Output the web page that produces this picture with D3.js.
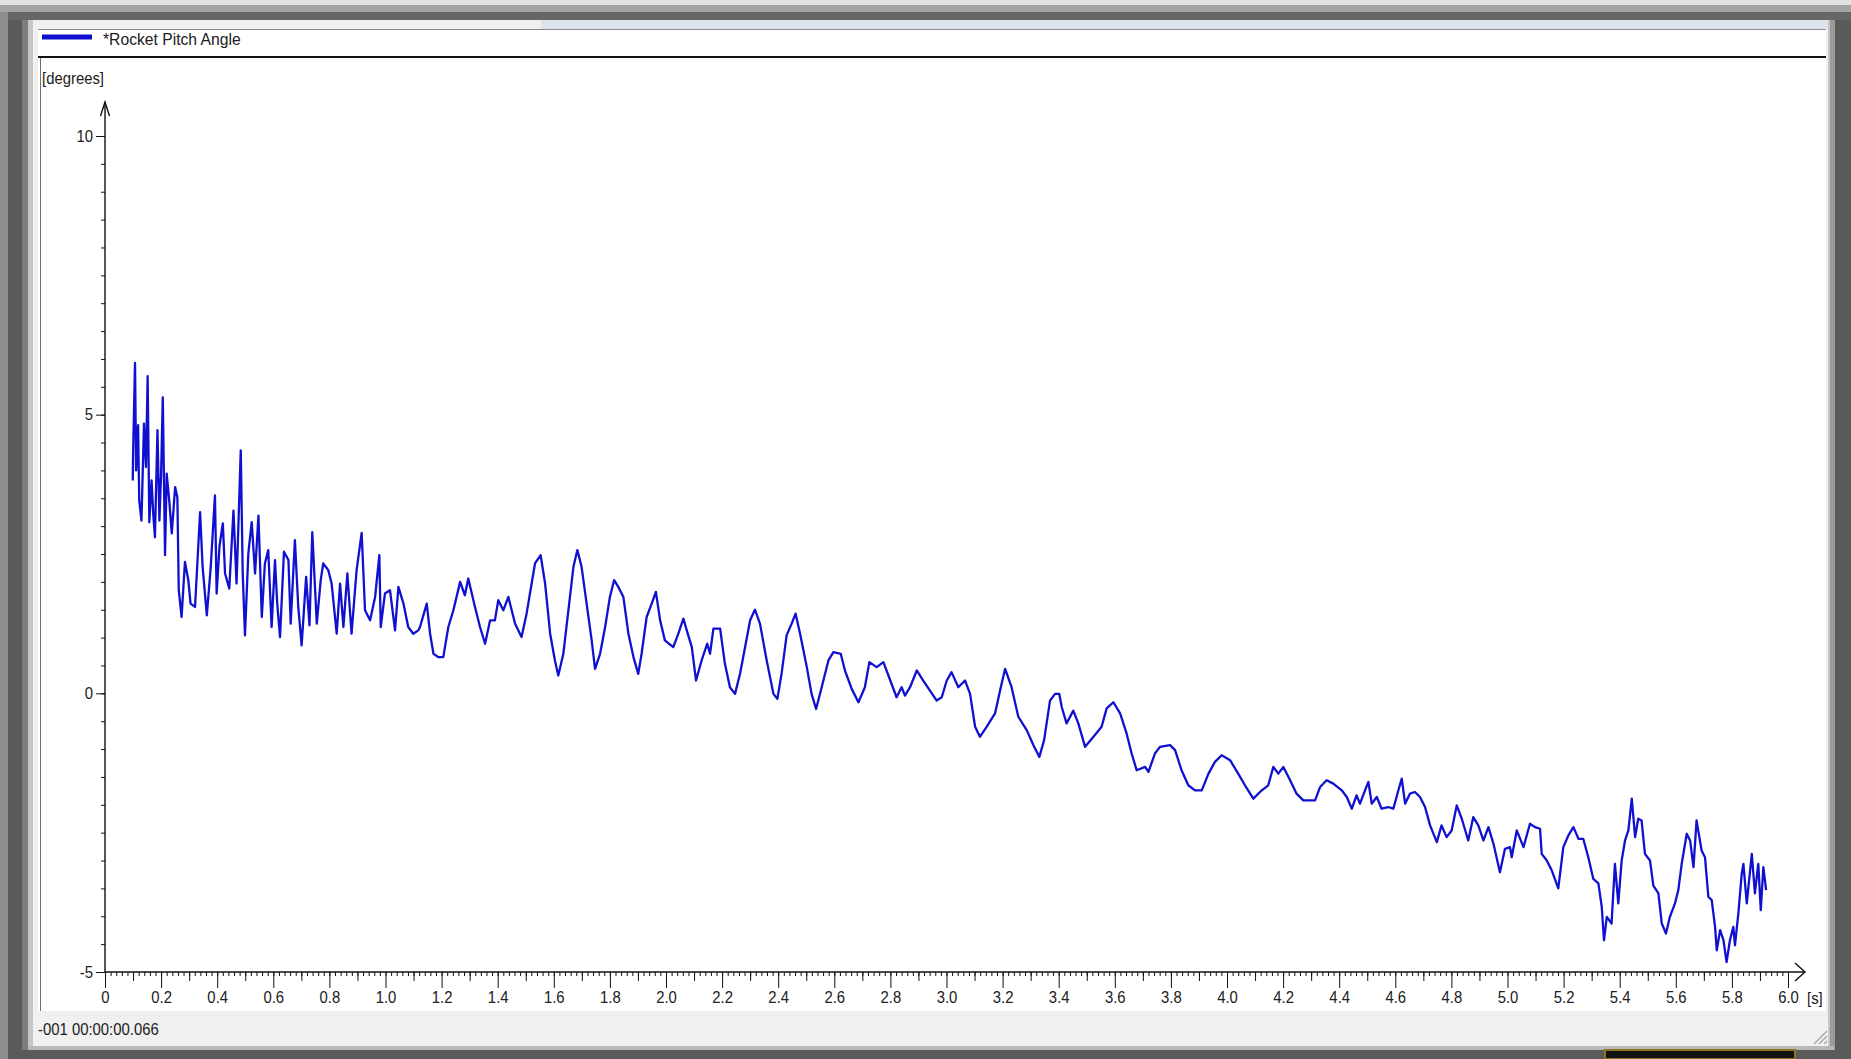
<!DOCTYPE html>
<html>
<head>
<meta charset="utf-8">
<script src="https://cdn.jsdelivr.net/npm/d3@7"></script>
<style>
  body { margin: 0; background: #5c5c5c; }
  svg { display: block; }
  text { font-family: "Liberation Sans", Arial, sans-serif; fill: #202020; }
</style>
</head>
<body>
<svg width="1851" height="1059"></svg>
<script>
// values: time [s] and pitch angle [degrees]
var time = [
  0.099,0.100,0.107,0.111,0.118,0.122,0.130,0.139,0.146,0.152,0.158,0.166,0.172,0.178,0.187,0.194,0.200,0.206,0.214,0.220,
  0.229,0.238,0.250,0.258,0.263,0.273,0.285,0.297,0.305,0.321,0.339,0.348,0.363,0.377,0.392,0.398,0.408,0.420,0.428,0.443,
  0.458,0.469,0.484,0.491,0.499,0.511,0.523,0.535,0.547,0.559,0.570,0.582,0.594,0.606,0.614,0.624,0.638,0.654,0.662,0.677,
  0.689,0.701,0.717,0.729,0.739,0.755,0.769,0.778,0.796,0.808,0.826,0.838,0.850,0.864,0.879,0.897,0.915,0.927,0.945,0.963,
  0.978,0.983,0.998,1.016,1.034,1.046,1.064,1.081,1.099,1.117,
  1.123,1.147,1.159,1.171,1.188,1.206,1.224,1.242,1.266,1.283,1.295,1.319,1.337,1.355,1.373,1.390,1.402,1.420,1.438,1.462,
  1.485,1.503,1.521,1.533,1.553,1.569,1.587,1.604,1.616,1.634,1.652,1.670,1.684,1.699,1.717,1.735,1.747,1.765,1.783,1.800,
  1.815,1.830,1.848,1.866,1.884,1.901,1.913,1.931,1.949,1.964,1.979,1.996,2.026,2.044,2.062,2.074,2.092,2.107,2.127,2.147,
  2.157,2.169,2.193,2.210,2.228,2.246,2.264,2.282,2.300,2.317,2.335,2.359,2.383,2.397,2.412,2.430,2.448,2.462,2.478,2.502,
  2.519,2.535,2.555,2.579,2.597,2.623,2.638,
  2.662,2.686,2.709,2.725,2.751,2.775,2.793,2.822,2.840,2.852,2.870,2.894,2.917,2.941,2.965,2.983,3.001,3.018,3.042,3.066,
  3.084,3.102,3.119,3.143,3.173,3.191,3.209,3.232,3.256,3.286,3.310,3.331,3.348,3.369,3.387,3.402,3.411,3.428,3.452,3.470,
  3.494,3.524,3.553,3.571,3.595,3.619,3.642,3.660,3.678,3.708,3.720,3.743,3.761,3.797,3.815,3.838,3.862,3.886,3.910,3.934,
  3.957,3.981,4.011,4.040,4.064,4.094,4.124,4.147,4.165,4.183,4.201,4.225,4.248,4.272,4.314,4.332,4.355,4.379,4.409,4.427,
  4.445,
  4.462,4.474,4.492,4.504,4.516,4.534,4.551,4.575,4.593,4.611,4.623,4.635,4.652,4.670,4.688,4.706,4.724,4.748,4.765,4.783,
  4.801,4.819,4.837,4.860,4.878,4.896,4.914,4.932,4.950,4.973,4.991,5.009,5.015,5.033,5.057,5.080,5.098,5.116,5.122,5.140,
  5.158,5.181,5.199,5.217,5.235,5.253,5.270,5.288,5.306,5.324,5.336,5.344,5.354,5.371,5.383,5.395,5.407,5.419,5.431,5.443,
  5.455,5.466,5.478,5.490,5.508,5.520,5.538,5.550,5.565,5.579,5.597,5.609,5.621,5.639,5.651,5.663,5.674,5.692,5.704,5.716,
  5.728,5.740,5.746,5.758,5.770,5.781,5.793,5.805,5.811,5.823,5.835,5.841,5.853,5.871,5.882,5.894,5.903,5.912,5.922
];
var pitch = [
  3.82,4.27,5.93,4.00,4.81,3.46,3.10,4.84,4.06,5.69,3.07,3.82,3.22,2.80,4.72,3.10,3.94,5.31,2.48,3.94,
  3.46,2.87,3.70,3.52,1.85,1.37,2.36,2.03,1.61,1.55,3.25,2.27,1.40,2.27,3.55,1.79,2.63,3.05,2.15,1.88,
  3.28,1.97,4.36,2.15,1.04,2.51,3.07,2.15,3.19,1.37,2.33,2.57,1.19,2.39,1.61,1.01,2.54,2.39,1.25,2.75,
  1.55,0.86,2.09,1.22,2.89,1.25,2.03,2.33,2.21,1.97,1.07,1.97,1.19,2.15,1.07,2.21,2.88,1.49,1.31,1.73,
  2.48,1.19,1.79,1.85,1.13,1.91,1.61,1.19,1.07,1.13,
  1.19,1.61,1.07,0.71,0.65,0.65,1.19,1.49,2.00,1.76,2.06,1.55,1.19,0.89,1.31,1.31,1.67,1.49,1.73,1.25,
  1.01,1.43,1.97,2.33,2.48,1.97,1.07,0.59,0.32,0.71,1.49,2.27,2.57,2.27,1.61,0.95,0.44,0.71,1.19,1.73,
  2.03,1.91,1.73,1.07,0.65,0.35,0.71,1.37,1.61,1.82,1.31,0.95,0.83,1.07,1.34,1.13,0.83,0.23,0.59,0.89,
  0.71,1.16,1.16,0.53,0.11,-0.01,0.35,0.83,1.31,1.50,1.25,0.59,-0.01,-0.10,0.35,1.04,1.25,1.43,1.07,0.47,
  -0.01,-0.28,0.11,0.59,0.74,0.71,0.41,
  0.08,-0.16,0.11,0.56,0.47,0.56,0.32,-0.07,0.11,-0.04,0.11,0.41,0.23,0.05,-0.13,-0.07,0.23,0.38,0.11,0.23,
  -0.01,-0.60,-0.78,-0.60,-0.36,0.05,0.44,0.11,-0.42,-0.66,-0.93,-1.14,-0.84,-0.13,-0.01,-0.01,-0.25,-0.54,-0.31,-0.54,
  -0.96,-0.78,-0.60,-0.27,-0.16,-0.36,-0.72,-1.08,-1.38,-1.32,-1.41,-1.08,-0.96,-0.93,-1.02,-1.38,-1.65,-1.74,-1.74,-1.44,
  -1.23,-1.11,-1.20,-1.44,-1.65,-1.89,-1.74,-1.65,-1.32,-1.44,-1.32,-1.56,-1.80,-1.92,-1.92,-1.68,-1.56,-1.62,-1.74,-1.86,
  -2.07,
  -1.83,-1.98,-1.74,-1.59,-1.98,-1.86,-2.07,-2.04,-2.07,-1.74,-1.53,-1.98,-1.80,-1.77,-1.86,-2.04,-2.37,-2.67,-2.37,-2.58,
  -2.46,-2.01,-2.25,-2.64,-2.22,-2.37,-2.64,-2.40,-2.70,-3.21,-2.79,-2.76,-2.94,-2.46,-2.76,-2.34,-2.40,-2.43,-2.88,-3.00,
  -3.18,-3.50,-2.76,-2.55,-2.40,-2.61,-2.61,-2.94,-3.33,-3.41,-3.83,-4.43,-4.01,-4.13,-3.06,-3.77,-3.00,-2.64,-2.46,-1.89,
  -2.58,-2.25,-2.28,-2.88,-3.00,-3.45,-3.59,-4.13,-4.31,-4.01,-3.77,-3.53,-3.06,-2.52,-2.64,-3.12,-2.28,-2.82,-2.94,-3.65,
  -3.71,-4.19,-4.61,-4.25,-4.43,-4.82,-4.43,-4.19,-4.52,-3.95,-3.24,-3.06,-3.77,-2.88,-3.59,-3.06,-3.89,-3.12,-3.53
];
var xMajor = d3.range(0, 31).map(function(i) { return i / 5; });
var xTickLabels = ["0","0.2","0.4","0.6","0.8","1.0","1.2","1.4","1.6","1.8","2.0","2.2","2.4","2.6","2.8","3.0",
                   "3.2","3.4","3.6","3.8","4.0","4.2","4.4","4.6","4.8","5.0","5.2","5.4","5.6","5.8","6.0"];
var yMajor = [-5, 0, 5, 10];
var yTickLabels = ["-5", "0", "5", "10"];
var seriesName = "*Rocket Pitch Angle";
var unitY = "[degrees]", unitX = "[s]";
var statusText = "-001 00:00:00.066";

var svg = d3.select("svg");
var lineColor = "#1010d0";

// label helper: the screen font is a bit narrower than Liberation Sans
function label(g, x, y, s, sx) {
  return g.append("text")
    .attr("transform", "translate(" + x + "," + y + ") scale(" + (sx || 0.93) + ",1)")
    .style("font-size", "16px")
    .text(s);
}

// window chrome
var chrome = svg.append("g");
chrome.append("rect").attr("width", 1851).attr("height", 1059).attr("fill", "#5a5a5a");
chrome.append("rect").attr("width", 1851).attr("height", 5).attr("fill", "#e2e2e2");
chrome.append("rect").attr("y", 5).attr("width", 1851).attr("height", 7).attr("fill", "#a4a4a4");
chrome.append("rect").attr("y", 12).attr("width", 1851).attr("height", 8).attr("fill", "#676767");
chrome.append("rect").attr("x", 0).attr("y", 12).attr("width", 8).attr("height", 1047).attr("fill", "#8e8e8e");
chrome.append("rect").attr("x", 22).attr("y", 20).attr("width", 6).attr("height", 1030).attr("fill", "#7c7c7c");
chrome.append("rect").attr("x", 28).attr("y", 20).attr("width", 1806).attr("height", 1030).attr("fill", "#c6c6c6");
chrome.append("rect").attr("x", 33).attr("y", 20).attr("width", 1795).attr("height", 1026).attr("fill", "#f0f0f0");
chrome.append("rect").attr("x", 541).attr("y", 20).attr("width", 1287).attr("height", 9).attr("fill", "#dde2ee");
chrome.append("rect").attr("x", 38).attr("y", 29).attr("width", 1788).attr("height", 982).attr("fill", "#ffffff");
chrome.append("line").attr("x1", 38).attr("x2", 1826).attr("y1", 29.5).attr("y2", 29.5).attr("stroke", "#8a8a8a");
chrome.append("line").attr("x1", 38).attr("x2", 1826).attr("y1", 57).attr("y2", 57).attr("stroke", "#111").attr("stroke-width", 2);
chrome.append("line").attr("x1", 40.5).attr("x2", 40.5).attr("y1", 58).attr("y2", 1011).attr("stroke", "#6e6e6e");
chrome.append("rect").attr("x", 1830).attr("y", 20).attr("width", 5).attr("height", 1030).attr("fill", "#9a9a9a");
chrome.append("rect").attr("x", 28).attr("y", 1046).attr("width", 1806).attr("height", 4).attr("fill", "#b8b8b8");
chrome.append("rect").attr("x", 1605).attr("y", 1050).attr("width", 190).attr("height", 9).attr("fill", "#111")
  .attr("stroke", "#8a7420").attr("stroke-width", 2);
[0, 5, 10].forEach(function(o) {
  chrome.append("line").attr("x1", 1814 + o).attr("y1", 1044).attr("x2", 1827).attr("y2", 1031 + o)
    .attr("stroke", "#a8a8a8").attr("stroke-width", 1.5);
});

// legend and units
svg.append("line").attr("x1", 42).attr("x2", 92).attr("y1", 37).attr("y2", 37)
  .attr("stroke", lineColor).attr("stroke-width", 5);
label(svg, 103, 45, seriesName, 0.98);
label(svg, 42, 84, unitY);
label(svg, 1807, 1004, unitX);
label(svg, 38, 1035, statusText);

// scales
var x = d3.scaleLinear().domain([0, 6]).range([105, 1788]);
var y = d3.scaleLinear().domain([-5, 10]).range([972, 136]);

// x axis: minor every 0.02, mid every 0.1, major every 0.2
var gx = svg.append("g").attr("transform", "translate(0," + y(-5) + ")");
gx.append("g").call(d3.axisBottom(x).tickValues(d3.range(0, 301).map(function(i) { return i / 50; }))
  .tickSize(4).tickSizeOuter(0).tickFormat(""));
gx.append("g").call(d3.axisBottom(x).tickValues(d3.range(0, 30).map(function(i) { return i / 5 + 0.1; }))
  .tickSize(9).tickSizeOuter(0).tickFormat(""));
gx.append("g").call(d3.axisBottom(x).tickValues(xMajor).tickSize(16).tickSizeOuter(0).tickPadding(4)
  .tickFormat(function(d, i) { return xTickLabels[i]; }));
gx.selectAll(".domain").remove();

// y axis: minor every 0.5, labels every 5
var gy = svg.append("g").attr("transform", "translate(" + x(0) + ",0)");
gy.append("g").call(d3.axisLeft(y).tickValues(d3.range(-10, 21).map(function(i) { return i / 2; }))
  .tickSize(4).tickSizeOuter(0).tickFormat(""));
gy.append("g").call(d3.axisLeft(y).tickValues(yMajor).tickSize(9).tickSizeOuter(0).tickPadding(4)
  .tickFormat(function(d, i) { return yTickLabels[i]; }));
gy.selectAll(".domain").remove();

svg.selectAll(".tick line").attr("stroke", "#111");
svg.selectAll(".tick text")
  .attr("transform", "scale(0.93,1)")
  .style("font-size", "16px")
  .style("font-family", "'Liberation Sans', Arial, sans-serif")
  .attr("fill", "#202020");

// axis lines with open arrowheads
var axisColor = "#111";
svg.append("line").attr("x1", x(0)).attr("x2", 1805).attr("y1", y(-5)).attr("y2", y(-5))
  .attr("stroke", axisColor).attr("stroke-width", 1.4);
svg.append("path").attr("d", "M1795,963L1805," + y(-5) + "L1795,981")
  .attr("fill", "none").attr("stroke", axisColor).attr("stroke-width", 1.4);
svg.append("line").attr("x1", x(0)).attr("x2", x(0)).attr("y1", y(-5)).attr("y2", 102)
  .attr("stroke", axisColor).attr("stroke-width", 1.4);
svg.append("path").attr("d", "M100.5,116L" + x(0) + ",102L109.5,116")
  .attr("fill", "none").attr("stroke", axisColor).attr("stroke-width", 1.4);

// the signal
var line = d3.line()
  .x(function(d, i) { return x(time[i]); })
  .y(function(d) { return y(d); });

svg.append("path")
  .datum(pitch)
  .attr("d", line)
  .attr("fill", "none")
  .attr("stroke", lineColor)
  .attr("stroke-width", 2.3)
  .attr("stroke-linejoin", "round");
</script>
</body>
</html>
